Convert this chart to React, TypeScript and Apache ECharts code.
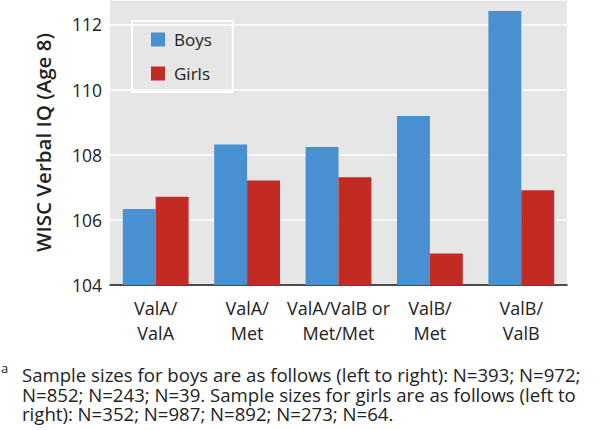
import React, { useEffect, useRef } from "react";
import * as echarts from "echarts";

const categories = ["ValA/\nValA", "ValA/\nMet", "ValA/ValB or\nMet/Met", "ValB/\nMet", "ValB/\nValB"];
const boys = [106.33, 108.31, 108.24, 109.19, 112.41];
const girls = [106.71, 107.21, 107.31, 104.97, 106.91];
const yTicks = { min: 104, max: 112.75, interval: 2 };
const footnoteLines = [
  "Sample sizes for boys are as follows (left to right): N=393; N=972;",
  "N=852; N=243; N=39. Sample sizes for girls are as follows (left to",
  "right): N=352; N=987; N=892; N=273; N=64.",
];

const FONT = "Open Sans";

export default function App() {
  const ref = useRef<HTMLDivElement>(null);
  useEffect(() => {
    if (!ref.current) return;
    const chart = echarts.init(ref.current, null, { renderer: "svg" });
    chart.setOption({
      animation: false,
      backgroundColor: "#ffffff",
      textStyle: { fontFamily: FONT },
      grid: {
        left: 110,
        right: 33,
        top: 0,
        bottom: 145,
        show: true,
        backgroundColor: "#e6e6e6",
        borderWidth: 0,
      },
      legend: {
        left: 132,
        top: 21,
        orient: "vertical",
        itemWidth: 14,
        itemHeight: 14,
        itemGap: 17,
        padding: [10, 21, 10, 19],
        borderColor: "#ffffff",
        borderWidth: 2,
        icon: "rect",
        textStyle: { fontFamily: FONT, fontSize: 17, color: "#222", padding: [0, 0, 0, 4] },
        data: ["Boys", "Girls"],
      },
      xAxis: {
        type: "category",
        data: categories,
        axisLine: { lineStyle: { color: "#111", width: 1.5 } },
        axisTick: { show: false },
        axisLabel: {
          fontFamily: FONT,
          fontSize: 18,
          lineHeight: 25,
          color: "#222",
          margin: 10,
          interval: 0,
        },
      },
      yAxis: {
        type: "value",
        min: yTicks.min,
        max: yTicks.max,
        interval: yTicks.interval,
        name: "WISC Verbal IQ (Age 8)",
        nameLocation: "middle",
        nameGap: 57,
        nameTextStyle: { fontFamily: FONT, fontSize: 20.5, fontWeight: 600, color: "#222" },
        axisLine: { show: false },
        axisTick: { show: false },
        splitLine: { lineStyle: { color: "#ffffff", width: 1.5 } },
        axisLabel: {
          fontFamily: FONT,
          fontSize: 17.5,
          color: "#222",
          margin: 8,
          showMaxLabel: false,
        },
      },
      series: [
        {
          name: "Boys",
          type: "bar",
          data: boys,
          itemStyle: { color: "#4890d0" },
          barGap: "0%",
          barCategoryGap: "28%",
        },
        {
          name: "Girls",
          type: "bar",
          data: girls,
          itemStyle: { color: "#c22a24" },
          barGap: "0%",
          barCategoryGap: "28%",
        },
      ],
      graphic: [
        {
          type: "text",
          x: 1,
          y: 368,
          style: { text: "a", fontFamily: FONT, fontSize: 13, fill: "#222", verticalAlign: "middle" },
        },
        {
          type: "text",
          x: 22,
          y: 365,
          style: {
            text: footnoteLines.join("\n"),
            fontFamily: FONT,
            fontSize: 18.6,
            lineHeight: 19.5,
            fill: "#222",
            verticalAlign: "top",
          },
        },
      ],
    });
    return () => chart.dispose();
  }, []);
  return <div ref={ref} style={{ width: 600, height: 430, position: "absolute", left: 0, top: 0 }} />;
}
